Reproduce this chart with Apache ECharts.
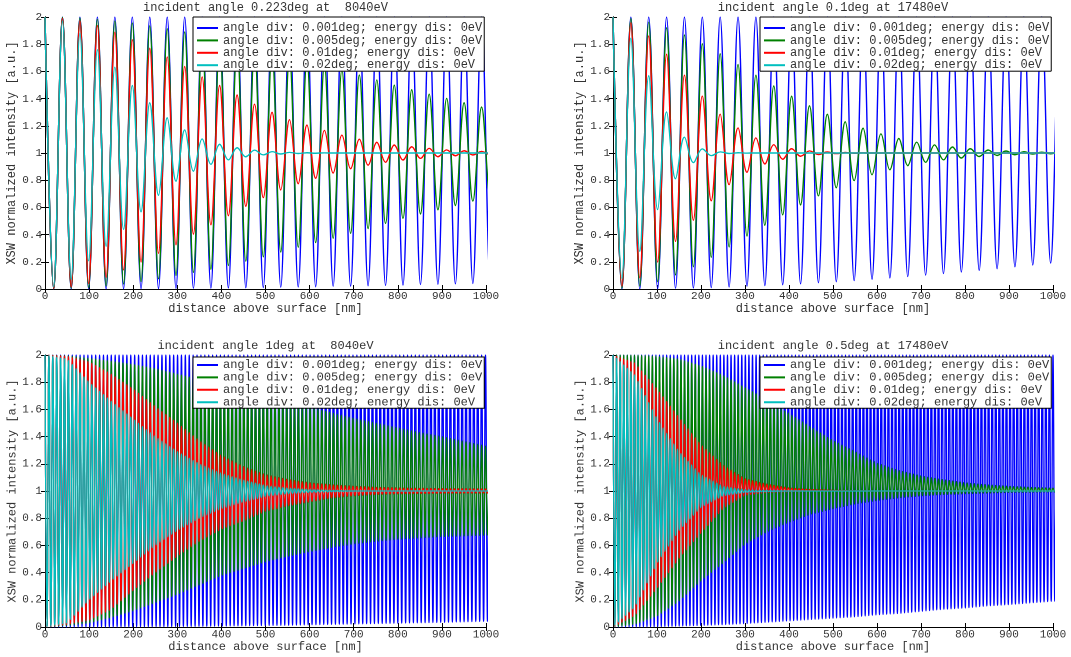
<!DOCTYPE html>
<html>
<head>
<meta charset="utf-8">
<script src="https://cdn.jsdelivr.net/npm/echarts@6/dist/echarts.min.js"></script>
<style>
html, body { margin: 0; padding: 0; background: #fff; }
.layer { position: absolute; left: 0; top: 0; width: 1071px; height: 657px; }
</style>
</head>
<body>
<div id="upper" class="layer"></div>
<div id="lower" class="layer"></div>
<script>
const zGrid = [0, 50, 100, 150, 200, 250, 300, 350, 400, 450, 500, 550, 600, 650, 700, 750, 800, 850, 900, 950, 1000];
const xTicks = [0, 100, 200, 300, 400, 500, 600, 700, 800, 900, 1000];
const yTicks = [0, 0.2, 0.4, 0.6, 0.8, 1, 1.2, 1.4, 1.6, 1.8, 2];

const seriesNames = [
  "angle div: 0.001deg; energy dis: 0eV",
  "angle div: 0.005deg; energy dis: 0eV",
  "angle div: 0.01deg; energy dis: 0eV",
  "angle div: 0.02deg; energy dis: 0eV"
];
const colors = ["#0000ff", "#008000", "#ff0000", "#00bfbf"];

const panelTitles = [
  "incident angle 0.223deg at  8040eV",
  "incident angle 0.1deg at 17480eV",
  "incident angle 1deg at  8040eV",
  "incident angle 0.5deg at 17480eV"
];
// oscillation period of each panel, nm
const periods = [39.6, 40.6, 8.84, 8.13];

// top left: 0.223deg, 8040eV  (Hi = peak height, Lo = trough height)
const tlBlueHi = [2, 2, 2, 2, 2, 2, 2, 2, 2, 2, 2, 2, 2, 2, 2, 2, 2, 2, 2, 2, 2];
const tlBlueLo = [0, 0, 0.001, 0.001, 0.002, 0.003, 0.004, 0.005, 0.007, 0.009, 0.011, 0.013, 0.016, 0.019, 0.021, 0.025, 0.028, 0.032, 0.035, 0.039, 0.043];
const tlGreenHi = [2, 1.997, 1.99, 1.975, 1.955, 1.93, 1.9, 1.87, 1.84, 1.8, 1.76, 1.715, 1.67, 1.63, 1.585, 1.54, 1.49, 1.45, 1.41, 1.37, 1.33];
const tlGreenLo = [0, 0.003, 0.01, 0.025, 0.045, 0.07, 0.1, 0.13, 0.16, 0.2, 0.24, 0.285, 0.33, 0.37, 0.415, 0.46, 0.51, 0.55, 0.59, 0.63, 0.67];
const tlRedHi = [2, 1.99, 1.96, 1.9, 1.83, 1.75, 1.67, 1.57, 1.49, 1.4, 1.32, 1.25, 1.2, 1.15, 1.11, 1.08, 1.055, 1.04, 1.025, 1.017, 1.011];
const tlRedLo = [0, 0.01, 0.04, 0.1, 0.17, 0.25, 0.33, 0.43, 0.51, 0.6, 0.68, 0.75, 0.8, 0.85, 0.89, 0.92, 0.945, 0.96, 0.975, 0.983, 0.989];
const tlCyanHi = [2, 1.96, 1.82, 1.66, 1.49, 1.33, 1.2, 1.11, 1.06, 1.03, 1.012, 1.005, 1.002, 1, 1, 1, 1, 1, 1, 1, 1];
const tlCyanLo = [0, 0.04, 0.21, 0.345, 0.51, 0.67, 0.8, 0.89, 0.94, 0.97, 0.988, 0.995, 0.998, 1, 1, 1, 1, 1, 1, 1, 1];

// top right: 0.1deg, 17480eV
const trBlueHi = [2, 2, 2, 2, 2, 2, 2, 2, 2, 2, 2, 2, 2, 2, 2, 2, 2, 2, 2, 2, 2];
const trBlueLo = [0, 0.001, 0.002, 0.005, 0.008, 0.013, 0.019, 0.026, 0.033, 0.042, 0.052, 0.062, 0.074, 0.086, 0.099, 0.113, 0.127, 0.142, 0.158, 0.175, 0.192];
const trGreenHi = [2, 1.987, 1.948, 1.887, 1.809, 1.718, 1.62, 1.522, 1.428, 1.341, 1.265, 1.201, 1.148, 1.106, 1.074, 1.051, 1.034, 1.022, 1.014, 1.008, 1.005];
const trGreenLo = [0, 0.013, 0.052, 0.113, 0.191, 0.282, 0.38, 0.478, 0.572, 0.659, 0.735, 0.799, 0.852, 0.894, 0.926, 0.949, 0.966, 0.978, 0.986, 0.992, 0.995];
const trRedHi = [2, 1.948, 1.808, 1.62, 1.428, 1.265, 1.148, 1.074, 1.034, 1.014, 1.005, 1.002, 1, 1, 1, 1, 1, 1, 1, 1, 1];
const trRedLo = [0, 0.052, 0.192, 0.38, 0.572, 0.735, 0.852, 0.926, 0.966, 0.986, 0.995, 0.998, 1, 1, 1, 1, 1, 1, 1, 1, 1];
const trCyanHi = [2, 1.807, 1.424, 1.145, 1.032, 1.005, 1.001, 1, 1, 1, 1, 1, 1, 1, 1, 1, 1, 1, 1, 1, 1];
const trCyanLo = [0, 0.193, 0.576, 0.855, 0.968, 0.995, 0.999, 1, 1, 1, 1, 1, 1, 1, 1, 1, 1, 1, 1, 1, 1];

// bottom left: 1deg, 8040eV
const blBlueHi = [2, 2, 2, 2, 2, 2, 2, 2, 2, 2, 2, 2, 2, 2, 2, 2, 2, 2, 2, 2, 2];
const blBlueLo = [0, 0, 0.001, 0.001, 0.002, 0.003, 0.004, 0.005, 0.007, 0.009, 0.011, 0.013, 0.016, 0.019, 0.022, 0.025, 0.028, 0.031, 0.034, 0.038, 0.042];
const blGreenHi = [2, 1.995, 1.975, 1.955, 1.93, 1.9, 1.86, 1.82, 1.78, 1.74, 1.7, 1.655, 1.615, 1.575, 1.535, 1.5, 1.465, 1.43, 1.4, 1.365, 1.33];
const blGreenLo = [0, 0.01, 0.03, 0.07, 0.12, 0.18, 0.24, 0.31, 0.38, 0.43, 0.48, 0.52, 0.555, 0.585, 0.61, 0.63, 0.645, 0.655, 0.665, 0.67, 0.675];
const blRedHi = [2, 1.99, 1.95, 1.86, 1.75, 1.62, 1.5, 1.37, 1.26, 1.18, 1.12, 1.085, 1.06, 1.045, 1.035, 1.027, 1.022, 1.019, 1.017, 1.016, 1.015];
const blRedLo = [0, 0.02, 0.05, 0.13, 0.27, 0.4, 0.52, 0.63, 0.72, 0.78, 0.85, 0.89, 0.92, 0.95, 0.965, 0.975, 0.98, 0.982, 0.984, 0.985, 0.985];
const blCyanHi = [2, 1.97, 1.8, 1.66, 1.53, 1.4, 1.29, 1.2, 1.13, 1.08, 1.04, 1.02, 1.01, 1.005, 1, 1, 1, 1, 1, 1, 1];
const blCyanLo = [0, 0.03, 0.2, 0.34, 0.47, 0.6, 0.71, 0.8, 0.87, 0.92, 0.96, 0.98, 0.99, 0.995, 1, 1, 1, 1, 1, 1, 1];

// bottom right: 0.5deg, 17480eV
const brBlueHi = [2, 2, 2, 2, 2, 2, 2, 2, 2, 2, 2, 2, 2, 2, 2, 2, 2, 2, 2, 2, 2];
const brBlueLo = [0, 0.001, 0.003, 0.007, 0.012, 0.017, 0.025, 0.035, 0.045, 0.055, 0.065, 0.075, 0.09, 0.1, 0.115, 0.13, 0.14, 0.155, 0.165, 0.178, 0.19];
const brGreenHi = [2, 1.998, 1.99, 1.97, 1.92, 1.85, 1.76, 1.67, 1.57, 1.47, 1.37, 1.29, 1.205, 1.15, 1.11, 1.082, 1.06, 1.045, 1.034, 1.026, 1.02];
const brGreenLo = [0, 0.02, 0.08, 0.19, 0.34, 0.47, 0.61, 0.7, 0.77, 0.83, 0.87, 0.905, 0.93, 0.95, 0.965, 0.975, 0.98, 0.985, 0.99, 0.992, 0.994];
const brRedHi = [2, 1.94, 1.75, 1.54, 1.34, 1.19, 1.09, 1.05, 1.022, 1.01, 1.005, 1.002, 1, 1, 1, 1, 1, 1, 1, 1, 1];
const brRedLo = [0, 0.085, 0.285, 0.505, 0.69, 0.87, 0.97, 0.99, 0.995, 1, 1, 1, 1, 1, 1, 1, 1, 1, 1, 1, 1];
const brCyanHi = [2, 1.85, 1.53, 1.29, 1.12, 1.035, 1.01, 1.003, 1, 1, 1, 1, 1, 1, 1, 1, 1, 1, 1, 1, 1];
const brCyanLo = [0, 0.15, 0.47, 0.71, 0.88, 0.965, 0.99, 0.997, 1, 1, 1, 1, 1, 1, 1, 1, 1, 1, 1, 1, 1];

const panelSeries = [
  [[tlBlueHi, tlBlueLo], [tlGreenHi, tlGreenLo], [tlRedHi, tlRedLo], [tlCyanHi, tlCyanLo]],
  [[trBlueHi, trBlueLo], [trGreenHi, trGreenLo], [trRedHi, trRedLo], [trCyanHi, trCyanLo]],
  [[blBlueHi, blBlueLo], [blGreenHi, blGreenLo], [blRedHi, blRedLo], [blCyanHi, blCyanLo]],
  [[brBlueHi, brBlueLo], [brGreenHi, brGreenLo], [brRedHi, brRedLo], [brCyanHi, brCyanLo]]
];

// height read at distance z, between two grid readings
function readAt(arr, z) {
  var i = Math.min(Math.floor(z / 50), arr.length - 2);
  var t = (z - zGrid[i]) / (zGrid[i + 1] - zGrid[i]);
  return arr[i] + (arr[i + 1] - arr[i]) * t;
}

// peaks and troughs, alternating every half period
function extremes(period, hi, lo) {
  var pts = [];
  for (var k = 0; k * period / 2 <= 1000 + period; k++) {
    var z = k * period / 2;
    var zc = Math.min(z, 1000);
    pts.push([z, k % 2 === 0 ? readAt(hi, zc) : readAt(lo, zc)]);
  }
  return pts;
}

const mono = "'Liberation Mono', 'DejaVu Sans Mono', monospace";
const grids = [
  { left: 45, top: 17, width: 441, height: 272 },
  { left: 613, top: 17, width: 440, height: 272 },
  { left: 45, top: 355, width: 441, height: 272 },
  { left: 613, top: 355, width: 440, height: 272 }
];

function buildOption(panels, lineWidth, smooth) {
  var xAxes = [], yAxes = [], series = [], titles = [], legends = [], gridList = [];
  panels.forEach(function(p, n) {
    var g = grids[p];
    gridList.push(g);
    var base = {
      type: "value",
      gridIndex: n,
      axisLine: { show: true, lineStyle: { color: "#000", width: 1 } },
      axisTick: { show: true, inside: true, length: 4, lineStyle: { color: "#000" } },
      splitLine: { show: false }
    };
    xAxes.push(Object.assign({}, base, {
      min: xTicks[0], max: xTicks[xTicks.length - 1], interval: 100,
      position: "bottom",
      name: "distance above surface [nm]",
      nameLocation: "middle",
      nameGap: 12,
      nameTextStyle: { fontFamily: mono, fontSize: 12, color: "#333" },
      axisLabel: {
        margin: 2, fontFamily: mono, fontSize: 11, color: "#333",
        formatter: function(v) { return String(v); }
      }
    }));
    xAxes.push(Object.assign({}, base, {
      min: xTicks[0], max: xTicks[xTicks.length - 1], interval: 100,
      position: "top",
      axisLabel: { show: false }
    }));
    yAxes.push(Object.assign({}, base, {
      min: yTicks[0], max: yTicks[yTicks.length - 1], interval: 0.2,
      position: "left",
      name: "XSW normalized intensity [a.u.]",
      nameLocation: "middle",
      nameGap: 26,
      nameTextStyle: { fontFamily: mono, fontSize: 12, color: "#333" },
      axisLabel: { margin: 3, fontFamily: mono, fontSize: 11, color: "#333" }
    }));
    yAxes.push(Object.assign({}, base, {
      min: yTicks[0], max: yTicks[yTicks.length - 1], interval: 0.2,
      position: "right",
      axisLabel: { show: false }
    }));

    titles.push({
      text: panelTitles[p],
      left: g.left + g.width / 2,
      top: g.top - 15,
      padding: 0,
      textAlign: "center",
      textStyle: { fontFamily: mono, fontSize: 12, fontWeight: "normal", color: "#333" }
    });

    legends.push({
      data: seriesNames,
      orient: "vertical",
      left: p % 2 === 0 ? 193 : 760,
      top: p < 2 ? 17 : 357,
      padding: p < 2 ? [5, 2, 0, 4] : [2, 2, 0, 4],
      itemGap: 0.4,
      itemWidth: 21,
      itemHeight: 2,
      icon: "rect",
      selectedMode: false,
      backgroundColor: "#fff",
      borderColor: "#000",
      borderWidth: 1,
      borderRadius: 0,
      textStyle: { fontFamily: mono, fontSize: 12, color: "#333", lineHeight: 12 }
    });

    panelSeries[p].forEach(function(pair, s) {
      series.push({
        name: seriesNames[s],
        type: "line",
        xAxisIndex: 2 * n,
        yAxisIndex: 2 * n,
        data: extremes(periods[p], pair[0], pair[1]),
        smooth: smooth,
        symbol: "none",
        showSymbol: false,
        color: colors[s],
        lineStyle: { color: colors[s], width: lineWidth },
        emphasis: { disabled: true },
        z: 2 + s
      });
    });
  });
  return {
    animation: false,
    title: titles,
    legend: legends,
    grid: gridList,
    xAxis: xAxes,
    yAxis: yAxes,
    series: series
  };
}

var upperChart = echarts.init(document.getElementById("upper"));
upperChart.setOption(Object.assign({ backgroundColor: "#fff" }, buildOption([0, 1], 1.4, 0.38)));

// the dense lower plots are drawn at double resolution and scaled down
var lowerChart = echarts.init(document.getElementById("lower"), null, { devicePixelRatio: 2 });
lowerChart.setOption(Object.assign({ backgroundColor: "transparent" }, buildOption([2, 3], 1.3, 0.38)));
</script>
</body>
</html>
